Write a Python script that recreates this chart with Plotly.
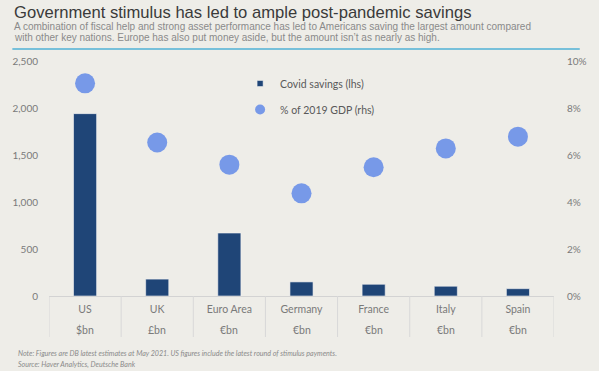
import plotly.graph_objects as go

countries = ["US", "UK", "Euro Area", "Germany", "France", "Italy", "Spain"]
units = ["$bn", "£bn", "€bn", "€bn", "€bn", "€bn", "€bn"]
covid_savings = [1940, 180, 670, 150, 125, 104, 78]
pct_gdp = [9.05, 6.53, 5.59, 4.37, 5.48, 6.28, 6.78]
left_ticks = [0, 500, 1000, 1500, 2000, 2500]
right_ticks = [0, 2, 4, 6, 8, 10]
right_tick_labels = ["0%", "2%", "4%", "6%", "8%", "10%"]

title = "Government stimulus has led to ample post-pandemic savings"
subtitle_lines = [
    "A combination of fiscal help and strong asset performance has led to Americans saving the largest amount compared",
    "with other key nations. Europe has also put money aside, but the amount isn\u2019t as nearly as high.",
]
note = "Note: Figures are DB latest estimates at May 2021. US figures include the latest round of stimulus payments."
source = "Source: Haver Analytics, Deutsche Bank"

BG = "#eeede8"
BAR = "#1f4577"
DOT = "#7799e8"
TICK = "#7a7a7a"
SANS = "Liberation Sans, Arial, sans-serif"
LATO = "Lato, sans-serif"

PLOT_H = 371 - 61 - 75
PLOT_W = 599 - 49 - 40


def py(px):
    """pixel row -> paper y"""
    return (296 - px) / PLOT_H


def pxx(px):
    """pixel column -> paper x"""
    return (px - 49) / PLOT_W


fig = go.Figure()
fig.add_trace(go.Bar(
    x=countries, y=covid_savings, name="Covid savings (lhs)",
    marker=dict(color=BAR, line=dict(color="#f4f4f4", width=0.6)),
    width=0.32, yaxis="y", showlegend=False,
))
fig.add_trace(go.Scatter(
    x=countries, y=pct_gdp, name="% of 2019 GDP (rhs)", mode="markers",
    marker=dict(color=DOT, size=20, line=dict(width=0)),
    yaxis="y2", showlegend=False,
))
# legend entries with the reference's small symbol sizes
fig.add_trace(go.Scatter(
    x=[None], y=[None], name="Covid savings (lhs)", mode="markers",
    marker=dict(color=BAR, size=6, symbol="square", line=dict(color="#f4f4f4", width=0.5)),
    legendgroup="a",
))
fig.add_trace(go.Scatter(
    x=[None], y=[None], name="% of 2019 GDP (rhs)", mode="markers",
    marker=dict(color=DOT, size=10, symbol="circle"),
    legendgroup="b", yaxis="y2",
))

fig.update_layout(
    width=599, height=371,
    margin=dict(l=49, r=40, t=61, b=75),
    paper_bgcolor=BG, plot_bgcolor=BG,
    font=dict(family=LATO, color=TICK, size=10),
    showlegend=True,
    legend=dict(x=pxx(242), y=py(69), xanchor="left", yanchor="top",
                bgcolor="rgba(0,0,0,0)", font=dict(size=10.5, color="#595959", family=LATO),
                tracegroupgap=7, itemsizing="trace", traceorder="grouped"),
    xaxis=dict(categoryorder="array", categoryarray=countries,
               showline=True, linecolor="#d3d3d3", linewidth=1,
               ticks="outside", ticklen=3, tickcolor="rgba(0,0,0,0)",
               tickfont=dict(size=10.5, color=TICK),
               showgrid=False, zeroline=False, range=[-0.5, len(countries) - 0.5]),
    yaxis=dict(range=[0, 2500], tickvals=left_ticks, tickformat=",",
               showgrid=False, zeroline=False, showline=False,
               ticks="outside", ticklen=8, tickcolor="rgba(0,0,0,0)",
               tickfont=dict(size=10, color=TICK)),
    yaxis2=dict(range=[0, 10], tickvals=right_ticks, ticktext=right_tick_labels,
                overlaying="y", side="right", anchor="x",
                showgrid=False, zeroline=False, showline=False,
                ticks="outside", ticklen=10, tickcolor="rgba(0,0,0,0)",
                tickfont=dict(size=10, color=TICK)),
)

# unit row under country labels
for c, u in zip(countries, units):
    fig.add_annotation(x=c, y=py(330), xref="x", yref="paper", text=u, showarrow=False,
                       yanchor="middle", font=dict(size=10.5, color=TICK, family=LATO))

# category dividers
for i in range(len(countries) + 1):
    fig.add_shape(type="line", xref="x", yref="paper", x0=i - 0.5, x1=i - 0.5,
                  y0=0, y1=py(337), line=dict(color="#d8d8d8", width=1))

# title, subtitle, rule
fig.add_annotation(xref="paper", yref="paper", x=pxx(12), y=py(12), xanchor="left", yanchor="middle",
                   text=title, showarrow=False, align="left",
                   font=dict(family=SANS, size=16.6, color="#3a3a3a"))
for line, row in zip(subtitle_lines, [26.5, 37.5]):
    fig.add_annotation(xref="paper", yref="paper", x=pxx(12), y=py(row), xanchor="left", yanchor="middle",
                       text=line, showarrow=False, align="left",
                       font=dict(family=SANS, size=10, color="#8a8a8a"))
fig.add_shape(type="line", xref="paper", yref="paper", x0=pxx(12), x1=pxx(585), y0=py(49), y1=py(49),
              line=dict(color="#4fb0d6", width=1.5))

# footnotes
fig.add_annotation(xref="paper", yref="paper", x=pxx(16), y=py(353), xanchor="left", yanchor="middle",
                   text="<i>" + note + "</i>", showarrow=False,
                   font=dict(family=LATO, size=7.1, color="#8a8a8a"))
fig.add_annotation(xref="paper", yref="paper", x=pxx(16), y=py(364), xanchor="left", yanchor="middle",
                   text="<i>" + source + "</i>", showarrow=False,
                   font=dict(family=LATO, size=7.1, color="#8a8a8a"))

fig.write_html("out.html", config={"displayModeBar": False},
               post_script="document.body.style.margin='0';")
